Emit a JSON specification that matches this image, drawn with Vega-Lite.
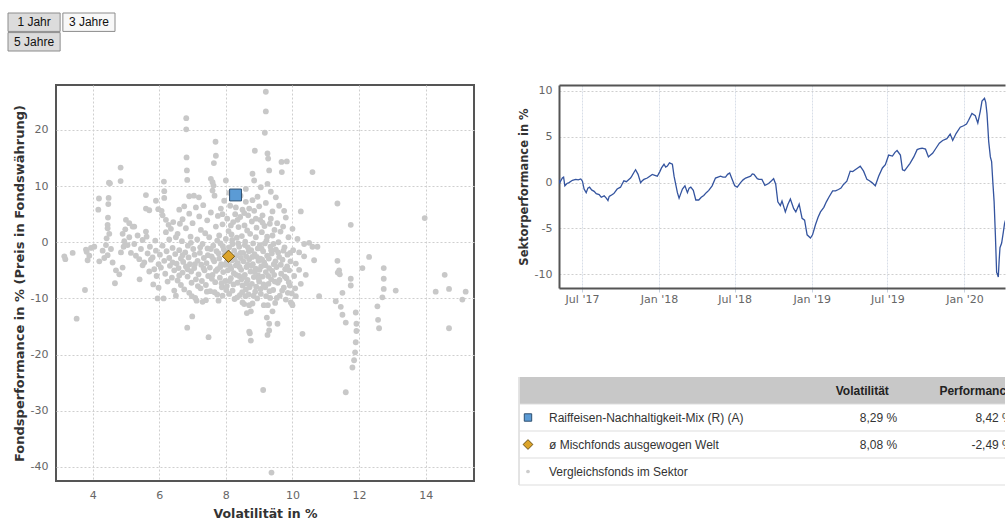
{
"$schema": "https://vega.github.io/schema/vega-lite/v6.json",
"padding": {"left": 7, "top": 12, "right": 0, "bottom": 0},
"background": "white",
"config": {
  "view": {"stroke": "#555", "strokeWidth": 2},
  "axis": {"labelFont": "DejaVu Sans", "labelFontSize": 11, "labelColor": "#666", "titleFont": "DejaVu Sans", "titleFontWeight": "bold", "titleColor": "#333", "gridColor": "#cfcfcf", "gridDash": [2, 2], "domain": false, "ticks": false}
},
"datasets": {
  "knoepfe": [
    {"label": "1 Jahr", "zeile": "1", "spalte": "1", "status": "inaktiv"},
    {"label": "3 Jahre", "zeile": "1", "spalte": "2", "status": "aktiv"},
    {"label": "5 Jahre", "zeile": "2", "spalte": "1", "status": "inaktiv"}
  ],
  "fonds": [
    {"name": "ø Mischfonds ausgewogen Welt", "v": 8.08, "p": -2.49},
    {"name": "Raiffeisen-Nachhaltigkeit-Mix (R) (A)", "v": 8.29, "p": 8.42}
  ],
  "tabelle": [
    {"zeile": "kopf", "name": "", "vol": "Volatilität", "perf": "Performance", "typ": "kopf"},
    {"zeile": "a", "name": "Raiffeisen-Nachhaltigkeit-Mix (R) (A)", "vol": "8,29 %", "perf": "8,42 %", "typ": "fonds"},
    {"zeile": "b", "name": "ø Mischfonds ausgewogen Welt", "vol": "8,08 %", "perf": "-2,49 %", "typ": "schnitt"},
    {"zeile": "c", "name": "Vergleichsfonds im Sektor", "vol": "", "perf": "", "typ": "sektor"}
  ],
  "sektor": [
    {"v":3.15,"p":-2.5},{"v":3.18,"p":-3.0},{"v":3.4,"p":-1.9},{"v":3.52,"p":-13.6},{"v":3.77,"p":-8.5},{"v":3.8,"p":-1.3},{"v":3.82,"p":-1.7},{"v":3.85,"p":-3.2},{"v":3.9,"p":-2.4},{"v":3.95,"p":-1.0},
    {"v":4.05,"p":-0.8},{"v":4.17,"p":5.8},{"v":4.19,"p":7.8},{"v":4.2,"p":-3.4},{"v":4.3,"p":-1.5},{"v":4.35,"p":-2.8},{"v":4.4,"p":-0.5},{"v":4.42,"p":0.7},{"v":4.45,"p":3.1},{"v":4.45,"p":2.5},{"v":4.45,"p":-2.3},{"v":4.46,"p":4.4},{"v":4.47,"p":6.8},{"v":4.48,"p":7.9},{"v":4.49,"p":10.6},{"v":4.52,"p":10.5},{"v":4.5,"p":1.5},{"v":4.55,"p":-1.2},{"v":4.6,"p":-3.6},{"v":4.67,"p":-7.3},{"v":4.7,"p":-5.0},{"v":4.8,"p":-5.7},{"v":4.84,"p":13.3},{"v":4.84,"p":10.9},{"v":4.85,"p":-1.8},{"v":4.9,"p":-4.5},{"v":4.9,"p":1.5},{"v":4.93,"p":-0.8},{"v":4.95,"p":0.2},{"v":4.98,"p":2.3},
    {"v":5.0,"p":4.0},{"v":5.05,"p":-0.5},{"v":5.1,"p":3.4},{"v":5.1,"p":0.9},{"v":5.15,"p":-1.9},{"v":5.2,"p":2.8},{"v":5.25,"p":2.8},{"v":5.25,"p":-0.3},{"v":5.3,"p":-2.4},{"v":5.35,"p":1.2},{"v":5.4,"p":-3.0},{"v":5.41,"p":-6.6},{"v":5.45,"p":-1.2},{"v":5.5,"p":0.4},{"v":5.5,"p":-4.1},
    {"v":5.55,"p":-3.6},{"v":5.6,"p":8.4},{"v":5.6,"p":6.0},{"v":5.6,"p":1.9},{"v":5.62,"p":1.0},{"v":5.65,"p":-2.0},{"v":5.7,"p":5.7},{"v":5.7,"p":-5.2},{"v":5.72,"p":-0.8},{"v":5.75,"p":-3.1},{"v":5.8,"p":-2.7},{"v":5.82,"p":-7.5},{"v":5.85,"p":-4.8},{"v":5.88,"p":0.3},{"v":5.9,"p":7.4},{"v":5.9,"p":-1.5},{"v":5.92,"p":-6.0},{"v":5.95,"p":-10.0},{"v":5.97,"p":5.9},{"v":5.98,"p":-3.9},{"v":5.98,"p":-8.1},
    {"v":6.02,"p":-2.2},{"v":6.05,"p":-4.5},{"v":6.07,"p":5.6},{"v":6.1,"p":4.8},{"v":6.1,"p":-0.6},{"v":6.13,"p":-10.0},{"v":6.14,"p":10.8},{"v":6.15,"p":9.1},{"v":6.15,"p":7.9},{"v":6.15,"p":-3.3},{"v":6.18,"p":-5.6},{"v":6.2,"p":4.0},{"v":6.2,"p":1.8},{"v":6.22,"p":-1.6},{"v":6.25,"p":-7.0},{"v":6.28,"p":3.1},{"v":6.3,"p":-2.8},{"v":6.3,"p":0.5},{"v":6.32,"p":-4.2},{"v":6.35,"p":2.4},{"v":6.38,"p":-6.3},{"v":6.4,"p":-3.6},{"v":6.4,"p":-1.0},{"v":6.42,"p":3.6},{"v":6.45,"p":-5.0},{"v":6.45,"p":-8.6},{"v":6.48,"p":-2.1},{"v":6.5,"p":-9.5},{"v":6.5,"p":0.9},
    {"v":6.52,"p":-3.8},{"v":6.55,"p":-6.8},{"v":6.55,"p":1.5},{"v":6.58,"p":-4.6},{"v":6.6,"p":5.8},{"v":6.6,"p":-1.4},{"v":6.62,"p":3.3},{"v":6.65,"p":-2.9},{"v":6.65,"p":-7.6},{"v":6.68,"p":0.2},{"v":6.7,"p":-5.4},{"v":6.7,"p":4.1},{"v":6.72,"p":-3.5},{"v":6.75,"p":6.4},{"v":6.75,"p":-8.4},{"v":6.78,"p":-1.8},{"v":6.8,"p":-4.3},{"v":6.8,"p":2.5},{"v":6.81,"p":22.1},{"v":6.81,"p":20.1},{"v":6.82,"p":15.1},{"v":6.83,"p":12.8},{"v":6.84,"p":11.1},{"v":6.84,"p":-15.2},{"v":6.85,"p":-6.1},{"v":6.86,"p":-0.6},{"v":6.88,"p":-2.7},{"v":6.9,"p":8.2},{"v":6.9,"p":-9.0},{"v":6.9,"p":5.1},{"v":6.92,"p":-3.9},{"v":6.94,"p":1.0},{"v":6.96,"p":-5.2},{"v":6.97,"p":-7.2},{"v":6.98,"p":-9.6},{"v":6.99,"p":-13.2},
    {"v":7.0,"p":3.4},{"v":7.02,"p":-1.2},{"v":7.04,"p":8.3},{"v":7.05,"p":-4.6},{"v":7.06,"p":-2.2},{"v":7.08,"p":-9.9},{"v":7.1,"p":6.2},{"v":7.1,"p":-6.6},{"v":7.12,"p":-10.4},{"v":7.14,"p":0.5},{"v":7.15,"p":-3.3},{"v":7.18,"p":-5.7},{"v":7.19,"p":8.0},{"v":7.2,"p":4.6},{"v":7.22,"p":-1.9},{"v":7.24,"p":-8.2},{"v":7.25,"p":2.2},{"v":7.26,"p":-4.0},{"v":7.28,"p":-6.9},{"v":7.3,"p":-10.6},{"v":7.3,"p":-0.3},{"v":7.32,"p":6.6},{"v":7.34,"p":-2.8},{"v":7.36,"p":-5.0},{"v":7.38,"p":1.6},{"v":7.4,"p":-10.3},{"v":7.4,"p":-7.6},{"v":7.42,"p":-3.7},{"v":7.44,"p":3.9},{"v":7.45,"p":-1.1},{"v":7.47,"p":-6.0},{"v":7.48,"p":-16.9},{"v":7.5,"p":0.9},
    {"v":7.52,"p":-4.5},{"v":7.53,"p":-8.7},{"v":7.55,"p":11.3},{"v":7.55,"p":5.3},{"v":7.57,"p":-2.5},{"v":7.6,"p":10.7},{"v":7.6,"p":9.2},{"v":7.6,"p":-5.8},{"v":7.62,"p":-0.6},{"v":7.63,"p":10.1},{"v":7.64,"p":14.1},{"v":7.65,"p":-3.4},{"v":7.66,"p":8.3},{"v":7.68,"p":-7.1},{"v":7.69,"p":17.9},{"v":7.7,"p":15.4},{"v":7.7,"p":2.8},{"v":7.72,"p":-1.6},{"v":7.74,"p":-9.3},{"v":7.75,"p":-4.8},{"v":7.76,"p":4.7},{"v":7.78,"p":-10.4},{"v":7.8,"p":-2.9},{"v":7.8,"p":1.2},{"v":7.82,"p":-6.3},{"v":7.84,"p":-0.2},{"v":7.85,"p":6.0},{"v":7.86,"p":-3.9},{"v":7.88,"p":-8.0},{"v":7.9,"p":-9.5},{"v":7.9,"p":3.2},{"v":7.92,"p":-5.3},{"v":7.94,"p":-1.3},{"v":7.95,"p":7.4},{"v":7.96,"p":-2.2},{"v":7.98,"p":-6.9},{"v":8.0,"p":11.0},{"v":8.0,"p":0.6},
    {"v":8.02,"p":-3.6},{"v":8.03,"p":-7.8},{"v":8.04,"p":4.2},{"v":8.05,"p":-1.8},{"v":8.06,"p":-5.0},{"v":8.08,"p":2.0},{"v":8.1,"p":-0.9},{"v":8.1,"p":-9.2},{"v":8.12,"p":-4.2},{"v":8.13,"p":6.5},{"v":8.14,"p":-2.7},{"v":8.15,"p":-6.4},{"v":8.17,"p":1.4},{"v":8.18,"p":-3.2},{"v":8.2,"p":-8.6},{"v":8.2,"p":-0.3},{"v":8.22,"p":3.6},{"v":8.24,"p":-5.5},{"v":8.25,"p":-1.5},{"v":8.26,"p":-10.1},{"v":8.28,"p":5.0},{"v":8.3,"p":-4.1},{"v":8.3,"p":6.2},{"v":8.32,"p":-2.3},{"v":8.33,"p":0.8},{"v":8.35,"p":-7.2},{"v":8.36,"p":-3.7},{"v":8.38,"p":2.7},{"v":8.4,"p":-6.0},{"v":8.4,"p":-0.8},{"v":8.42,"p":-9.4},{"v":8.43,"p":4.5},{"v":8.44,"p":8.3},{"v":8.45,"p":-2.8},{"v":8.46,"p":-4.9},{"v":8.48,"p":1.1},{"v":8.5,"p":-10.7},{"v":8.5,"p":-7.7},{"v":8.5,"p":5.8},
    {"v":8.52,"p":-1.9},{"v":8.53,"p":-3.4},{"v":8.55,"p":-11.0},{"v":8.56,"p":3.0},{"v":8.57,"p":-5.8},{"v":8.58,"p":0.1},{"v":8.6,"p":7.2},{"v":8.6,"p":-8.4},{"v":8.61,"p":-2.5},{"v":8.62,"p":-4.4},{"v":8.63,"p":-12.6},{"v":8.64,"p":2.1},{"v":8.65,"p":-6.7},{"v":8.66,"p":-0.9},{"v":8.67,"p":4.8},{"v":8.68,"p":-9.3},{"v":8.7,"p":-15.9},{"v":8.7,"p":-3.0},{"v":8.7,"p":-11.2},{"v":8.72,"p":-16.2},{"v":8.73,"p":1.5},{"v":8.74,"p":-5.2},{"v":8.75,"p":-12.3},{"v":8.75,"p":-17.5},{"v":8.76,"p":-1.4},{"v":8.78,"p":3.7},{"v":8.78,"p":-7.4},{"v":8.8,"p":7.5},{"v":8.8,"p":-10.9},{"v":8.8,"p":12.2},{"v":8.81,"p":-3.9},{"v":8.82,"p":-0.2},{"v":8.84,"p":-6.2},{"v":8.85,"p":11.0},{"v":8.85,"p":5.6},{"v":8.86,"p":-2.1},{"v":8.87,"p":16.3},{"v":8.88,"p":-8.8},{"v":8.9,"p":-4.7},{"v":8.9,"p":0.9},{"v":8.92,"p":2.6},{"v":8.94,"p":-10.0},{"v":8.95,"p":8.1},{"v":8.96,"p":-1.1},{"v":8.97,"p":-5.9},{"v":8.98,"p":-3.3},
    {"v":9.0,"p":6.4},{"v":9.0,"p":-7.0},{"v":9.02,"p":-0.5},{"v":9.03,"p":4.0},{"v":9.04,"p":-2.9},{"v":9.05,"p":-9.2},{"v":9.06,"p":-4.3},{"v":9.08,"p":1.8},{"v":9.1,"p":4.8},{"v":9.1,"p":-6.1},{"v":9.12,"p":-26.3},{"v":9.12,"p":-1.6},{"v":9.14,"p":-11.2},{"v":9.15,"p":-3.6},{"v":9.16,"p":2.9},{"v":9.17,"p":19.5},{"v":9.18,"p":-8.0},{"v":9.2,"p":26.8},{"v":9.2,"p":23.3},{"v":9.2,"p":-5.3},{"v":9.22,"p":0.3},{"v":9.23,"p":-13.4},{"v":9.24,"p":-2.4},{"v":9.25,"p":15.8},{"v":9.25,"p":10.4},{"v":9.25,"p":-16.5},{"v":9.26,"p":-11.2},{"v":9.27,"p":14.9},{"v":9.28,"p":-7.4},{"v":9.3,"p":12.8},{"v":9.3,"p":-14.5},{"v":9.3,"p":-15.7},{"v":9.3,"p":-4.6},{"v":9.32,"p":3.3},{"v":9.33,"p":-9.9},{"v":9.34,"p":-0.8},{"v":9.35,"p":9.0},{"v":9.35,"p":4.2},{"v":9.36,"p":-6.6},{"v":9.37,"p":-41.0},{"v":9.38,"p":-2.0},{"v":9.4,"p":-12.3},{"v":9.4,"p":1.2},{"v":9.42,"p":-8.5},{"v":9.44,"p":-3.9},{"v":9.45,"p":-5.8},{"v":9.46,"p":2.2},{"v":9.48,"p":-10.8},{"v":9.5,"p":-1.3},
    {"v":9.52,"p":-4.4},{"v":9.54,"p":3.4},{"v":9.55,"p":-14.5},{"v":9.56,"p":-7.2},{"v":9.58,"p":0.0},{"v":9.6,"p":-2.6},{"v":9.62,"p":-9.5},{"v":9.64,"p":1.9},{"v":9.66,"p":-5.6},{"v":9.67,"p":14.3},{"v":9.68,"p":12.5},{"v":9.7,"p":-3.1},{"v":9.72,"p":2.8},{"v":9.74,"p":-8.1},{"v":9.76,"p":-0.9},{"v":9.78,"p":-4.8},{"v":9.8,"p":-10.2},{"v":9.8,"p":4.4},{"v":9.82,"p":-6.4},{"v":9.83,"p":14.4},{"v":9.85,"p":-2.2},{"v":9.86,"p":-9.0},{"v":9.88,"p":0.9},{"v":9.9,"p":-5.0},{"v":9.92,"p":-7.7},{"v":9.94,"p":-3.4},{"v":9.95,"p":-10.7},{"v":9.98,"p":-9.1},{"v":9.99,"p":-11.0},
    {"v":10.0,"p":-11.2},{"v":10.02,"p":-1.4},{"v":10.05,"p":-6.0},{"v":10.08,"p":-8.2},{"v":10.1,"p":-3.8},{"v":10.15,"p":0.6},{"v":10.2,"p":-4.9},{"v":10.25,"p":5.5},{"v":10.25,"p":-7.4},{"v":10.3,"p":-16.3},{"v":10.35,"p":-2.5},{"v":10.35,"p":-0.3},{"v":10.4,"p":-5.8},{"v":10.5,"p":-0.1},{"v":10.6,"p":12.5},{"v":10.6,"p":-0.8},{"v":10.65,"p":-3.2},{"v":10.75,"p":-0.8},{"v":10.8,"p":-9.6},
    {"v":11.3,"p":-10.5},{"v":11.35,"p":6.9},{"v":11.35,"p":-3.3},{"v":11.36,"p":-5.4},{"v":11.4,"p":-5.0},{"v":11.42,"p":-5.7},{"v":11.45,"p":-11.5},{"v":11.5,"p":-9.0},{"v":11.5,"p":-12.9},{"v":11.6,"p":-14.3},{"v":11.6,"p":-26.7},{"v":11.75,"p":3.1},{"v":11.75,"p":-6.5},{"v":11.75,"p":-7.7},{"v":11.8,"p":-22.3},{"v":11.85,"p":-21.0},{"v":11.88,"p":-19.6},{"v":11.9,"p":-17.8},{"v":11.9,"p":-12.5},{"v":11.92,"p":-14.5},{"v":11.92,"p":-15.8},{"v":12.1,"p":-4.6},{"v":12.3,"p":-2.6},{"v":12.55,"p":-11.4},{"v":12.57,"p":-13.8},{"v":12.6,"p":-15.3},{"v":12.7,"p":-9.8},{"v":12.74,"p":-4.6},{"v":12.74,"p":-6.5},{"v":12.74,"p":-8.3},{"v":13.1,"p":-8.6},{"v":13.97,"p":4.3},{"v":14.3,"p":-8.8},{"v":14.57,"p":-5.8},{"v":14.7,"p":-8.3},{"v":14.7,"p":-15.3},{"v":15.1,"p":-10.2},{"v":15.2,"p":-8.8},
    {"v":7.55,"p":-1.2},{"v":7.58,"p":-6.5},{"v":7.62,"p":-3.0},{"v":7.66,"p":-8.9},{"v":7.7,"p":-5.1},{"v":7.74,"p":0.3},{"v":7.78,"p":-2.0},{"v":7.83,"p":-4.4},{"v":7.87,"p":-7.3},{"v":7.91,"p":-0.7},{"v":7.97,"p":-4.0},{"v":8.01,"p":-8.5},
    {"v":8.07,"p":-2.6},{"v":8.11,"p":-6.9},{"v":8.16,"p":-4.7},{"v":8.19,"p":0.4},{"v":8.23,"p":-7.5},{"v":8.27,"p":-3.1},{"v":8.31,"p":-5.8},{"v":8.34,"p":-9.8},{"v":8.37,"p":-0.2},{"v":8.41,"p":-4.4},{"v":8.44,"p":-1.9},{"v":8.47,"p":-6.6},{"v":8.49,"p":-8.9},
    {"v":8.54,"p":-6.2},{"v":8.57,"p":-0.5},{"v":8.59,"p":-9.6},{"v":8.62,"p":-7.3},{"v":8.66,"p":-4.0},{"v":8.69,"p":-1.6},{"v":8.71,"p":-8.0},{"v":8.77,"p":-4.2},{"v":8.79,"p":-2.6},{"v":8.83,"p":-9.5},{"v":8.87,"p":-5.3},{"v":8.91,"p":-7.9},{"v":8.93,"p":-2.6},{"v":8.99,"p":-6.5},
    {"v":9.01,"p":-4.9},{"v":9.04,"p":-8.3},{"v":9.07,"p":-1.1},{"v":9.09,"p":-3.1},{"v":9.13,"p":-7.5},{"v":9.17,"p":-0.2},{"v":9.19,"p":-4.1},{"v":9.21,"p":-9.6},{"v":9.24,"p":1.0},{"v":9.27,"p":-6.0},{"v":9.29,"p":-2.9},{"v":9.31,"p":-8.7},{"v":9.36,"p":-1.4},{"v":9.39,"p":-5.1},{"v":9.43,"p":-0.3},{"v":9.47,"p":-7.0},{"v":9.49,"p":-3.4},
    {"v":9.53,"p":-9.9},{"v":9.57,"p":-1.8},{"v":9.61,"p":-6.7},{"v":9.65,"p":-4.0},{"v":9.69,"p":-8.6},{"v":9.73,"p":-1.5},{"v":9.77,"p":-6.1},{"v":9.84,"p":-4.3},{"v":9.89,"p":-7.1},{"v":9.93,"p":-1.9},
    {"v":6.6,"p":-5.9},{"v":6.7,"p":-2.3},{"v":6.85,"p":-4.8},{"v":6.95,"p":-0.1},{"v":7.07,"p":-3.9},{"v":7.16,"p":-7.8},{"v":7.23,"p":-0.9},{"v":7.33,"p":-4.6},{"v":7.43,"p":-8.8},{"v":7.46,"p":-2.3},
    {"v":8.15,"p":3.0},{"v":8.35,"p":4.0},{"v":8.55,"p":5.2},{"v":8.7,"p":6.0},{"v":8.9,"p":4.2},{"v":9.1,"p":3.5},{"v":9.2,"p":7.0},{"v":9.4,"p":5.5},{"v":9.6,"p":6.5},{"v":7.9,"p":5.0},{"v":8.1,"p":8.8},{"v":8.6,"p":9.5},{"v":9.05,"p":9.8},{"v":9.5,"p":8.0},{"v":9.75,"p":5.6},{"v":10.0,"p":2.4},{"v":10.1,"p":-9.6},{"v":10.2,"p":-1.8}
  ],
  "linie": [
    {"datum":"2017-05-07","wert":0.3},{"datum":"2017-05-09","wert":0.0},{"datum":"2017-05-15","wert":0.5},{"datum":"2017-05-18","wert":0.6},{"datum":"2017-05-21","wert":-0.35},{"datum":"2017-05-26","wert":-0.1},{"datum":"2017-05-31","wert":0.0},{"datum":"2017-06-08","wert":0.25},{"datum":"2017-06-16","wert":0.35},{"datum":"2017-06-22","wert":0.3},{"datum":"2017-06-28","wert":0.4},
    {"datum":"2017-07-02","wert":0.15},{"datum":"2017-07-06","wert":-0.7},{"datum":"2017-07-11","wert":-1.1},{"datum":"2017-07-15","wert":-0.6},{"datum":"2017-07-19","wert":-0.5},{"datum":"2017-07-24","wert":-0.8},{"datum":"2017-07-30","wert":-0.95},{"datum":"2017-08-04","wert":-1.2},{"datum":"2017-08-11","wert":-1.3},{"datum":"2017-08-16","wert":-1.6},{"datum":"2017-08-23","wert":-1.45},{"datum":"2017-08-28","wert":-1.7},
    {"datum":"2017-09-01","wert":-1.95},{"datum":"2017-09-04","wert":-1.5},{"datum":"2017-09-08","wert":-1.4},{"datum":"2017-09-15","wert":-1.2},{"datum":"2017-09-23","wert":-0.7},{"datum":"2017-10-01","wert":-0.5},{"datum":"2017-10-09","wert":0.2},{"datum":"2017-10-15","wert":0.1},{"datum":"2017-10-21","wert":0.35},{"datum":"2017-10-25","wert":0.5},{"datum":"2017-10-28","wert":0.7},
    {"datum":"2017-11-02","wert":1.1},{"datum":"2017-11-06","wert":1.4},{"datum":"2017-11-12","wert":0.9},{"datum":"2017-11-18","wert":0.0},{"datum":"2017-11-22","wert":0.2},{"datum":"2017-11-26","wert":0.35},{"datum":"2017-12-04","wert":0.5},{"datum":"2017-12-10","wert":0.7},{"datum":"2017-12-16","wert":0.9},{"datum":"2017-12-22","wert":0.8},{"datum":"2017-12-28","wert":0.7},
    {"datum":"2018-01-03","wert":1.2},{"datum":"2018-01-07","wert":1.6},{"datum":"2018-01-13","wert":2.0},{"datum":"2018-01-17","wert":1.7},{"datum":"2018-01-21","wert":1.8},{"datum":"2018-01-26","wert":2.15},{"datum":"2018-02-02","wert":2.0},{"datum":"2018-02-06","wert":0.7},{"datum":"2018-02-10","wert":-0.2},{"datum":"2018-02-14","wert":-1.1},{"datum":"2018-02-18","wert":-1.7},{"datum":"2018-02-22","wert":-1.2},{"datum":"2018-02-26","wert":-0.7},
    {"datum":"2018-03-04","wert":-0.35},{"datum":"2018-03-10","wert":-1.1},{"datum":"2018-03-14","wert":-0.6},{"datum":"2018-03-18","wert":-0.5},{"datum":"2018-03-24","wert":-0.85},{"datum":"2018-03-30","wert":-1.9},{"datum":"2018-04-06","wert":-1.9},{"datum":"2018-04-12","wert":-1.6},{"datum":"2018-04-18","wert":-1.4},{"datum":"2018-04-24","wert":-1.1},{"datum":"2018-04-30","wert":-0.85},
    {"datum":"2018-05-08","wert":-0.35},{"datum":"2018-05-16","wert":0.5},{"datum":"2018-05-22","wert":0.6},{"datum":"2018-05-28","wert":0.7},{"datum":"2018-06-03","wert":0.6},{"datum":"2018-06-09","wert":0.6},{"datum":"2018-06-14","wert":0.9},{"datum":"2018-06-19","wert":1.05},{"datum":"2018-06-25","wert":0.35},
    {"datum":"2018-07-01","wert":-0.35},{"datum":"2018-07-07","wert":-0.5},{"datum":"2018-07-15","wert":0.0},{"datum":"2018-07-21","wert":0.3},{"datum":"2018-07-27","wert":0.5},{"datum":"2018-08-02","wert":0.6},{"datum":"2018-08-08","wert":0.7},{"datum":"2018-08-12","wert":0.95},{"datum":"2018-08-16","wert":0.9},{"datum":"2018-08-24","wert":0.43},{"datum":"2018-08-28","wert":0.35},
    {"datum":"2018-09-04","wert":0.35},{"datum":"2018-09-11","wert":-0.3},{"datum":"2018-09-20","wert":-0.1},{"datum":"2018-09-27","wert":0.2},{"datum":"2018-10-02","wert":0.43},{"datum":"2018-10-07","wert":-0.18},{"datum":"2018-10-12","wert":-2.1},{"datum":"2018-10-18","wert":-2.5},{"datum":"2018-10-22","wert":-2.0},{"datum":"2018-10-30","wert":-3.2},
    {"datum":"2018-11-05","wert":-2.4},{"datum":"2018-11-11","wert":-1.8},{"datum":"2018-11-19","wert":-2.85},{"datum":"2018-11-24","wert":-3.2},{"datum":"2018-12-02","wert":-2.35},{"datum":"2018-12-09","wert":-3.9},{"datum":"2018-12-15","wert":-4.1},{"datum":"2018-12-21","wert":-5.7},{"datum":"2018-12-29","wert":-6.05},
    {"datum":"2019-01-03","wert":-5.7},{"datum":"2019-01-10","wert":-4.6},{"datum":"2019-01-16","wert":-3.8},{"datum":"2019-01-22","wert":-3.2},{"datum":"2019-01-30","wert":-2.7},{"datum":"2019-02-05","wert":-2.1},{"datum":"2019-02-11","wert":-1.6},{"datum":"2019-02-20","wert":-0.9},{"datum":"2019-02-27","wert":-0.9},
    {"datum":"2019-03-06","wert":-0.75},{"datum":"2019-03-12","wert":-0.6},{"datum":"2019-03-18","wert":-0.2},{"datum":"2019-03-26","wert":0.15},{"datum":"2019-04-03","wert":1.25},{"datum":"2019-04-09","wert":1.2},{"datum":"2019-04-15","wert":1.4},{"datum":"2019-04-21","wert":1.6},{"datum":"2019-04-27","wert":1.8},
    {"datum":"2019-05-05","wert":1.25},{"datum":"2019-05-13","wert":0.35},{"datum":"2019-05-19","wert":0.2},{"datum":"2019-05-25","wert":0.0},{"datum":"2019-06-02","wert":-0.35},{"datum":"2019-06-10","wert":0.7},{"datum":"2019-06-19","wert":1.6},{"datum":"2019-06-26","wert":1.95},
    {"datum":"2019-07-04","wert":3.0},{"datum":"2019-07-13","wert":2.9},{"datum":"2019-07-19","wert":3.3},{"datum":"2019-07-24","wert":3.5},{"datum":"2019-08-01","wert":3.0},{"datum":"2019-08-06","wert":1.4},{"datum":"2019-08-11","wert":1.3},{"datum":"2019-08-16","wert":1.6},{"datum":"2019-08-24","wert":2.1},
    {"datum":"2019-09-02","wert":2.8},{"datum":"2019-09-10","wert":3.6},{"datum":"2019-09-16","wert":3.7},{"datum":"2019-09-22","wert":3.75},{"datum":"2019-09-30","wert":3.65},{"datum":"2019-10-07","wert":2.8},{"datum":"2019-10-12","wert":3.0},{"datum":"2019-10-17","wert":3.2},{"datum":"2019-10-25","wert":3.75},
    {"datum":"2019-11-02","wert":4.3},{"datum":"2019-11-10","wert":4.6},{"datum":"2019-11-20","wert":4.8},{"datum":"2019-11-28","wert":5.3},{"datum":"2019-12-04","wert":4.6},{"datum":"2019-12-12","wert":5.35},{"datum":"2019-12-22","wert":6.05},{"datum":"2019-12-30","wert":6.2},
    {"datum":"2020-01-06","wert":6.4},{"datum":"2020-01-11","wert":6.8},{"datum":"2020-01-19","wert":7.55},{"datum":"2020-01-27","wert":7.3},{"datum":"2020-02-02","wert":6.5},{"datum":"2020-02-08","wert":7.8},{"datum":"2020-02-12","wert":8.9},{"datum":"2020-02-18","wert":9.2},{"datum":"2020-02-21","wert":8.75},{"datum":"2020-02-24","wert":7.5},{"datum":"2020-02-26","wert":6.05},{"datum":"2020-02-28","wert":4.5},
    {"datum":"2020-03-03","wert":2.8},{"datum":"2020-03-06","wert":2.3},{"datum":"2020-03-09","wert":0.0},{"datum":"2020-03-12","wert":-2.1},{"datum":"2020-03-15","wert":-5.7},{"datum":"2020-03-18","wert":-9.8},{"datum":"2020-03-20","wert":-10.0},{"datum":"2020-03-22","wert":-10.3},{"datum":"2020-03-24","wert":-8.5},{"datum":"2020-03-26","wert":-7.1},{"datum":"2020-03-30","wert":-6.6},{"datum":"2020-04-03","wert":-5.4},{"datum":"2020-04-06","wert":-4.45},{"datum":"2020-04-09","wert":-4.0}
  ]
},
"spacing": 32,
"align": "none",
"resolve": {"scale": {"fill": "independent", "shape": "independent", "stroke": "independent", "size": "independent"}},
"vconcat": [
  {
    "data": {"name": "knoepfe"},
    "width": 10,
    "height": 38,
    "view": {"stroke": null},
    "encoding": {
      "x": {"field": "spalte", "type": "ordinal", "axis": null, "scale": {"range": [-48, 59], "paddingInner": 0.05, "paddingOuter": 0}},
      "y": {"field": "zeile", "type": "ordinal", "axis": null, "scale": {"paddingInner": 0.06, "paddingOuter": 0}}
    },
    "layer": [
      {"mark": {"type": "rect", "stroke": "#8c8c8c", "strokeWidth": 1},
       "encoding": {"fill": {"field": "status", "type": "nominal", "scale": {"domain": ["inaktiv", "aktiv"], "range": ["#dcdcdc", "#f8f8f8"]}, "legend": null}}},
      {"mark": {"type": "text", "font": "Liberation Sans", "fontSize": 12, "color": "#111"},
       "encoding": {"text": {"field": "label"}}}
    ]
  },
  {
    "spacing": 43,
    "resolve": {"scale": {"fill": "independent", "shape": "independent", "stroke": "independent", "size": "independent"}},
    "hconcat": [
      {
        "width": 418,
        "height": 396,
        "layer": [
          {"data": {"name": "sektor"},
           "mark": {"type": "circle", "color": "#c8c8c8", "size": 34, "opacity": 1},
           "encoding": {
             "x": {"field": "v", "type": "quantitative", "scale": {"domain": [2.9, 15.45], "nice": false, "zero": false},
                   "axis": {"values": [4, 6, 8, 10, 12, 14], "title": "Volatilität in %", "titleFontSize": 12.5, "labelPadding": 8, "titlePadding": 7, "grid": true}},
             "y": {"field": "p", "type": "quantitative", "scale": {"domain": [-42.5, 28], "nice": false, "zero": false},
                   "axis": {"values": [20, 10, 0, -10, -20, -30, -40], "title": "Fondsperformance in % (Preis in Fondswährung)", "titleFontSize": 13, "labelPadding": 8, "titlePadding": 4, "grid": true,
                            "labelExpr": "datum.value < 0 ? '-' + format(-datum.value, 'd') : format(datum.value, 'd')"}}
           }},
          {"data": {"name": "fonds"},
           "transform": [{"filter": "datum.name == 'ø Mischfonds ausgewogen Welt'"}],
           "mark": {"type": "point", "shape": "diamond", "filled": true, "fill": "#dca42a", "stroke": "#6b5010", "strokeWidth": 1, "size": 150, "opacity": 1},
           "encoding": {
             "x": {"field": "v", "type": "quantitative"},
             "y": {"field": "p", "type": "quantitative"}
           }},
          {"data": {"name": "fonds"},
           "transform": [{"filter": "datum.name == 'Raiffeisen-Nachhaltigkeit-Mix (R) (A)'"}],
           "mark": {"type": "point", "shape": "square", "filled": true, "fill": "#5b9bd5", "stroke": "#2f4f6f", "strokeWidth": 1, "size": 140, "opacity": 1},
           "encoding": {
             "x": {"field": "v", "type": "quantitative"},
             "y": {"field": "p", "type": "quantitative"}
           }}
        ]
      },
      {
        "spacing": 72,
        "align": "none",
        "resolve": {"scale": {"fill": "independent", "shape": "independent", "stroke": "independent", "size": "independent"}},
        "vconcat": [
          {
            "width": 446,
            "height": 203,
            "view": {"stroke": null},
            "data": {"name": "linie"},
            "layer": [
              {"mark": {"type": "line", "color": "#34549f", "strokeWidth": 1.3, "clip": true},
               "encoding": {
                 "x": {"field": "datum", "type": "temporal",
                       "scale": {"domain": [{"year": 2017, "month": 5, "date": 7}, {"year": 2020, "month": 4, "date": 7}]},
                       "axis": {"values": [{"year": 2017, "month": 7, "date": 1}, {"year": 2018, "month": 1, "date": 1}, {"year": 2018, "month": 7, "date": 1}, {"year": 2019, "month": 1, "date": 1}, {"year": 2019, "month": 7, "date": 1}, {"year": 2020, "month": 1, "date": 1}],
                                "format": "%b '%y", "title": null, "grid": true, "gridColor": "#d8dee8", "gridDash": [2, 1], "ticks": true, "tickSize": 4, "tickColor": "#c5d0de", "labelPadding": 1, "domain": true, "domainColor": "#555", "domainWidth": 2, "labelFlush": false}},
                 "y": {"field": "wert", "type": "quantitative", "scale": {"domain": [-11.5, 10.65], "nice": false, "zero": false},
                       "axis": {"values": [-10, -5, 0, 5, 10], "title": "Sektorperformance in %", "titleFontSize": 11.5, "labelPadding": 7, "titlePadding": 5, "grid": true, "domain": true, "domainColor": "#555", "domainWidth": 2,
                                "labelExpr": "datum.value < 0 ? '-' + format(-datum.value, 'd') : format(datum.value, 'd')"}}
               }},
              {"mark": {"type": "line", "opacity": 0, "clip": true},
               "encoding": {
                 "x": {"field": "datum", "type": "temporal", "axis": {"orient": "top", "labels": false, "ticks": false, "grid": false, "domain": true, "domainColor": "#555", "domainWidth": 2, "title": null}},
                 "y": {"field": "wert", "type": "quantitative"}
               }}
            ],
            "resolve": {"axis": {"x": "independent"}}
          },
          {
            "width": 446,
            "height": {"step": 27},
            "view": {"stroke": null},
            "data": {"name": "tabelle"},
            "encoding": {
              "y": {"field": "zeile", "type": "nominal", "axis": null, "scale": {"domain": ["kopf", "a", "b", "c"], "paddingInner": 0, "paddingOuter": 0}}
            },
            "layer": [
              {"transform": [{"filter": "datum.typ == 'kopf'"}], "mark": {"type": "rect", "color": "#c8c8c8"},
               "encoding": {"x": {"datum": 0, "type": "quantitative", "scale": {"domain": [0, 100], "range": [-40, 446], "nice": false, "zero": false}, "axis": null}, "x2": {"datum": 100}}},
              {"mark": {"type": "rule", "color": "#dddddd", "strokeWidth": 1},
               "encoding": {"y": {"field": "zeile", "type": "nominal", "bandPosition": 1}, "x": {"datum": 0, "type": "quantitative"}, "x2": {"datum": 100}}},
              {"mark": {"type": "rule", "color": "#e2e2e2", "strokeWidth": 1},
               "encoding": {"x": {"datum": 0, "type": "quantitative"}, "y": {"value": 0}, "y2": {"value": 108}}},
              {"transform": [{"filter": "datum.typ == 'fonds'"}],
               "mark": {"type": "point", "shape": "square", "filled": true, "fill": "#5b9bd5", "stroke": "#2f4f6f", "strokeWidth": 1, "size": 55, "opacity": 1},
               "encoding": {"x": {"datum": 1.85, "type": "quantitative"}}},
              {"transform": [{"filter": "datum.typ == 'schnitt'"}],
               "mark": {"type": "point", "shape": "diamond", "filled": true, "fill": "#dca42a", "stroke": "#6b5010", "strokeWidth": 1, "size": 95, "opacity": 1},
               "encoding": {"x": {"datum": 1.85, "type": "quantitative"}}},
              {"transform": [{"filter": "datum.typ == 'sektor'"}],
               "mark": {"type": "circle", "color": "#cccccc", "size": 14, "opacity": 1},
               "encoding": {"x": {"datum": 1.85, "type": "quantitative"}}},
              {"transform": [{"filter": "datum.typ != 'kopf'"}],
               "mark": {"type": "text", "align": "left", "font": "Liberation Sans", "fontSize": 12, "color": "#333"},
               "encoding": {"x": {"datum": 6.17, "type": "quantitative"}, "text": {"field": "name"}}},
              {"transform": [{"filter": "datum.typ != 'kopf'"}],
               "mark": {"type": "text", "align": "right", "font": "Liberation Sans", "fontSize": 12, "color": "#333"},
               "encoding": {"x": {"datum": 77.8, "type": "quantitative"}, "text": {"field": "vol"}}},
              {"transform": [{"filter": "datum.typ != 'kopf'"}],
               "mark": {"type": "text", "align": "right", "font": "Liberation Sans", "fontSize": 12, "color": "#333", "clip": true},
               "encoding": {"x": {"datum": 101.6, "type": "quantitative"}, "text": {"field": "perf"}}},
              {"transform": [{"filter": "datum.typ == 'kopf'"}],
               "mark": {"type": "text", "align": "right", "font": "Liberation Sans", "fontSize": 12, "fontWeight": "bold", "color": "#222"},
               "encoding": {"x": {"datum": 76.1, "type": "quantitative"}, "text": {"field": "vol"}}},
              {"transform": [{"filter": "datum.typ == 'kopf'"}],
               "mark": {"type": "text", "align": "right", "font": "Liberation Sans", "fontSize": 12, "fontWeight": "bold", "color": "#222", "clip": true},
               "encoding": {"x": {"datum": 101.6, "type": "quantitative"}, "text": {"field": "perf"}}}
            ]
          }
        ]
      }
    ]
  }
]
}
